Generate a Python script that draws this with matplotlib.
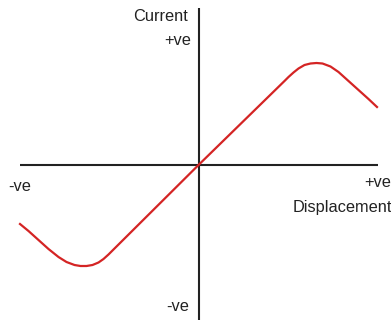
import matplotlib.pyplot as plt

# displacement / current samples of the response curve (origin at the axis crossing)
displacement = [-178.5, -170, -160, -150, -140, -132, -124, -118, -112, -106, -100, -95, -90, -86,
                0, 86, 90, 95, 100, 106, 112, 118, 124, 132, 140, 150, 160, 170, 178.5]
current = [-59, -66, -75, -84, -92, -97, -100, -101, -101, -100, -97.5, -94, -89.5, -85.5,
           0, 84, 88, 92.5, 96.5, 100, 101.5, 102, 101.5, 98.5, 93, 84, 75, 66, 58]

x_axis = [-178.5, 179.5]
y_axis = [-155, 157]

plt.rcParams['font.family'] = ['Liberation Sans', 'DejaVu Sans']

fig = plt.figure(figsize=(3.91, 3.2), dpi=100)
ax = fig.add_axes([0, 0, 1, 1])
ax.set_xlim(-198.5, 192.5)
ax.set_ylim(-155, 165)
ax.axis('off')

ax.plot(x_axis, [0, 0], color='#222222', linewidth=1.5, solid_capstyle='butt')
ax.plot([0, 0], y_axis, color='#222222', linewidth=1.5, solid_capstyle='butt')
ax.plot(displacement, current, color='#d42424', linewidth=1.6,
        solid_joinstyle='round', zorder=3)

fs = 11.8
tc = '#222222'
ax.text(-10.5, 144, 'Current', ha='right', va='baseline', fontsize=fs, color=tc)
ax.text(-7.5, 120, '+ve', ha='right', va='baseline', fontsize=fs, color=tc)
ax.text(-9.5, -146, '-ve', ha='right', va='baseline', fontsize=fs, color=tc)
ax.text(-190.5, -26, '-ve', ha='left', va='baseline', fontsize=fs, color=tc)
ax.text(193, -22, '+ve', ha='right', va='baseline', fontsize=fs, color=tc)
ax.text(193, -47, 'Displacement', ha='right', va='baseline', fontsize=fs, color=tc)

fig.savefig('out.png', dpi=100)
